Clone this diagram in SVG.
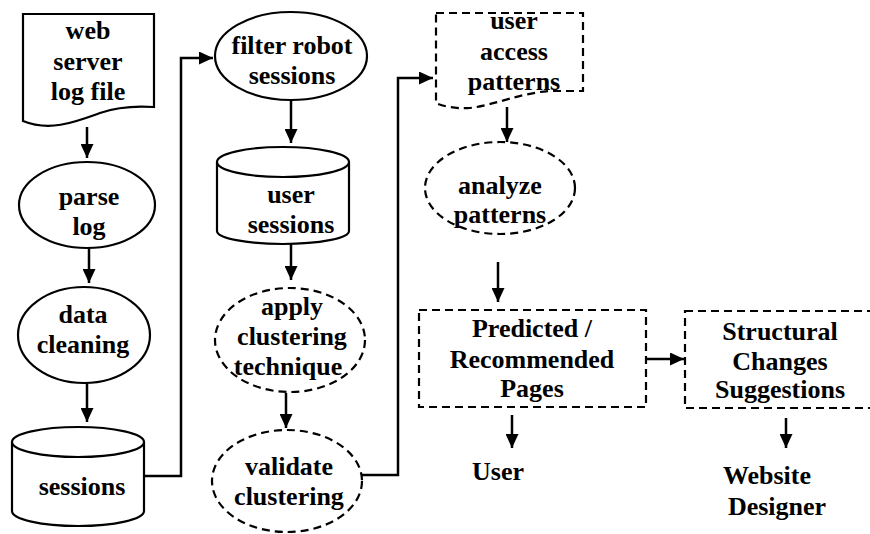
<svg xmlns="http://www.w3.org/2000/svg" width="870" height="534" viewBox="0 0 870 534">
<defs>
<marker id="ah" viewBox="0 0 14 13" refX="14" refY="6.5" markerWidth="14" markerHeight="13" markerUnits="userSpaceOnUse" orient="auto">
<path d="M0,0 L14,6.5 L0,13 Z" fill="#000"/>
</marker>
</defs>
<style>
.s{fill:#fff;stroke:#000;stroke-width:2.2}
.d{fill:#fff;stroke:#000;stroke-width:2.2;stroke-dasharray:8 5}
.c{fill:none;stroke:#000;stroke-width:2.5;marker-end:url(#ah)}
</style>
<rect width="870" height="534" fill="#fff"/>
<g id="connectors">
<path class="c" d="M87,127 V158"/>
<path class="c" d="M89,248 V283"/>
<path class="c" d="M87,383 V422"/>
<path class="c" d="M144,476 H181 V58 H213"/>
<path class="c" d="M291,100 V143"/>
<path class="c" d="M291,244 V280"/>
<path class="c" d="M286,393 V428"/>
<path class="c" d="M362,475 H398 V78 H433"/>
<path class="c" d="M507,107 V142"/>
<path class="c" d="M498,262 V302"/>
<path class="c" d="M512,415 V448"/>
<path class="c" d="M646,359 H684"/>
<path class="c" d="M786,418 V448"/>
</g>
<g font-family="Liberation Serif, Times New Roman, serif" font-weight="700" font-size="26" text-anchor="middle" fill="#000">
<g id="weblog">
<path class="s" d="M23,14 H154 V107 C140,106 120,106 100,113 C75,122 50,132 23,121 Z"/>
<text x="88" y="39">web</text>
<text x="88" y="70">server</text>
<text x="88" y="100">log file</text>
</g>
<g id="parse">
<ellipse class="s" cx="87" cy="205" rx="68" ry="43"/>
<text x="89" y="205">parse</text>
<text x="89" y="235">log</text>
</g>
<g id="cleaning">
<ellipse class="s" cx="84" cy="335" rx="66" ry="48"/>
<text x="83" y="323">data</text>
<text x="83" y="353">cleaning</text>
</g>
<g id="sessions">
<path class="s" d="M12,442 V511 A66,15 0 0 0 144,511 V442"/>
<ellipse class="s" cx="78" cy="442" rx="66" ry="15"/>
<text x="82" y="495">sessions</text>
</g>
<g id="filter">
<ellipse class="s" cx="291" cy="56" rx="76" ry="44"/>
<text x="292" y="54">filter robot</text>
<text x="292" y="84">sessions</text>
</g>
<g id="usersessions">
<path class="s" d="M217,162 V231 A66,13 0 0 0 349,231 V162"/>
<ellipse class="s" cx="283" cy="162" rx="66" ry="15"/>
<text x="291" y="203">user</text>
<text x="291" y="233">sessions</text>
</g>
<g id="apply">
<ellipse class="d" cx="290" cy="340" rx="75" ry="52"/>
<text x="292" y="315">apply</text>
<text x="292" y="345">clustering</text>
<text x="288" y="375">technique</text>
</g>
<g id="validate">
<ellipse class="d" cx="287" cy="481" rx="75" ry="51"/>
<text x="289" y="475">validate</text>
<text x="289" y="505">clustering</text>
</g>
<g id="access">
<path class="d" d="M436,13 H583 V91 H550 C520,93 495,105 470,108 C455,109 442,106 436,103 Z"/>
<text x="514" y="29">user</text>
<text x="514" y="60">access</text>
<text x="514" y="90">patterns</text>
</g>
<g id="analyze">
<ellipse class="d" cx="500" cy="188" rx="75" ry="46"/>
<text x="500" y="194">analyze</text>
<text x="500" y="223">patterns</text>
</g>
<g id="predicted">
<rect class="d" x="419" y="310" width="227" height="97"/>
<text x="532" y="337">Predicted /</text>
<text x="532" y="368">Recommended</text>
<text x="532" y="397">Pages</text>
</g>
<g id="structural">
<rect class="d" x="685" y="311" width="190" height="97"/>
<text x="780" y="340">Structural</text>
<text x="780" y="370">Changes</text>
<text x="780" y="398">Suggestions</text>
</g>
<g id="user">
<text x="498" y="480">User</text>
</g>
<g id="designer">
<text x="767" y="484">Website</text>
<text x="777" y="515">Designer</text>
</g>
</g>
</svg>
